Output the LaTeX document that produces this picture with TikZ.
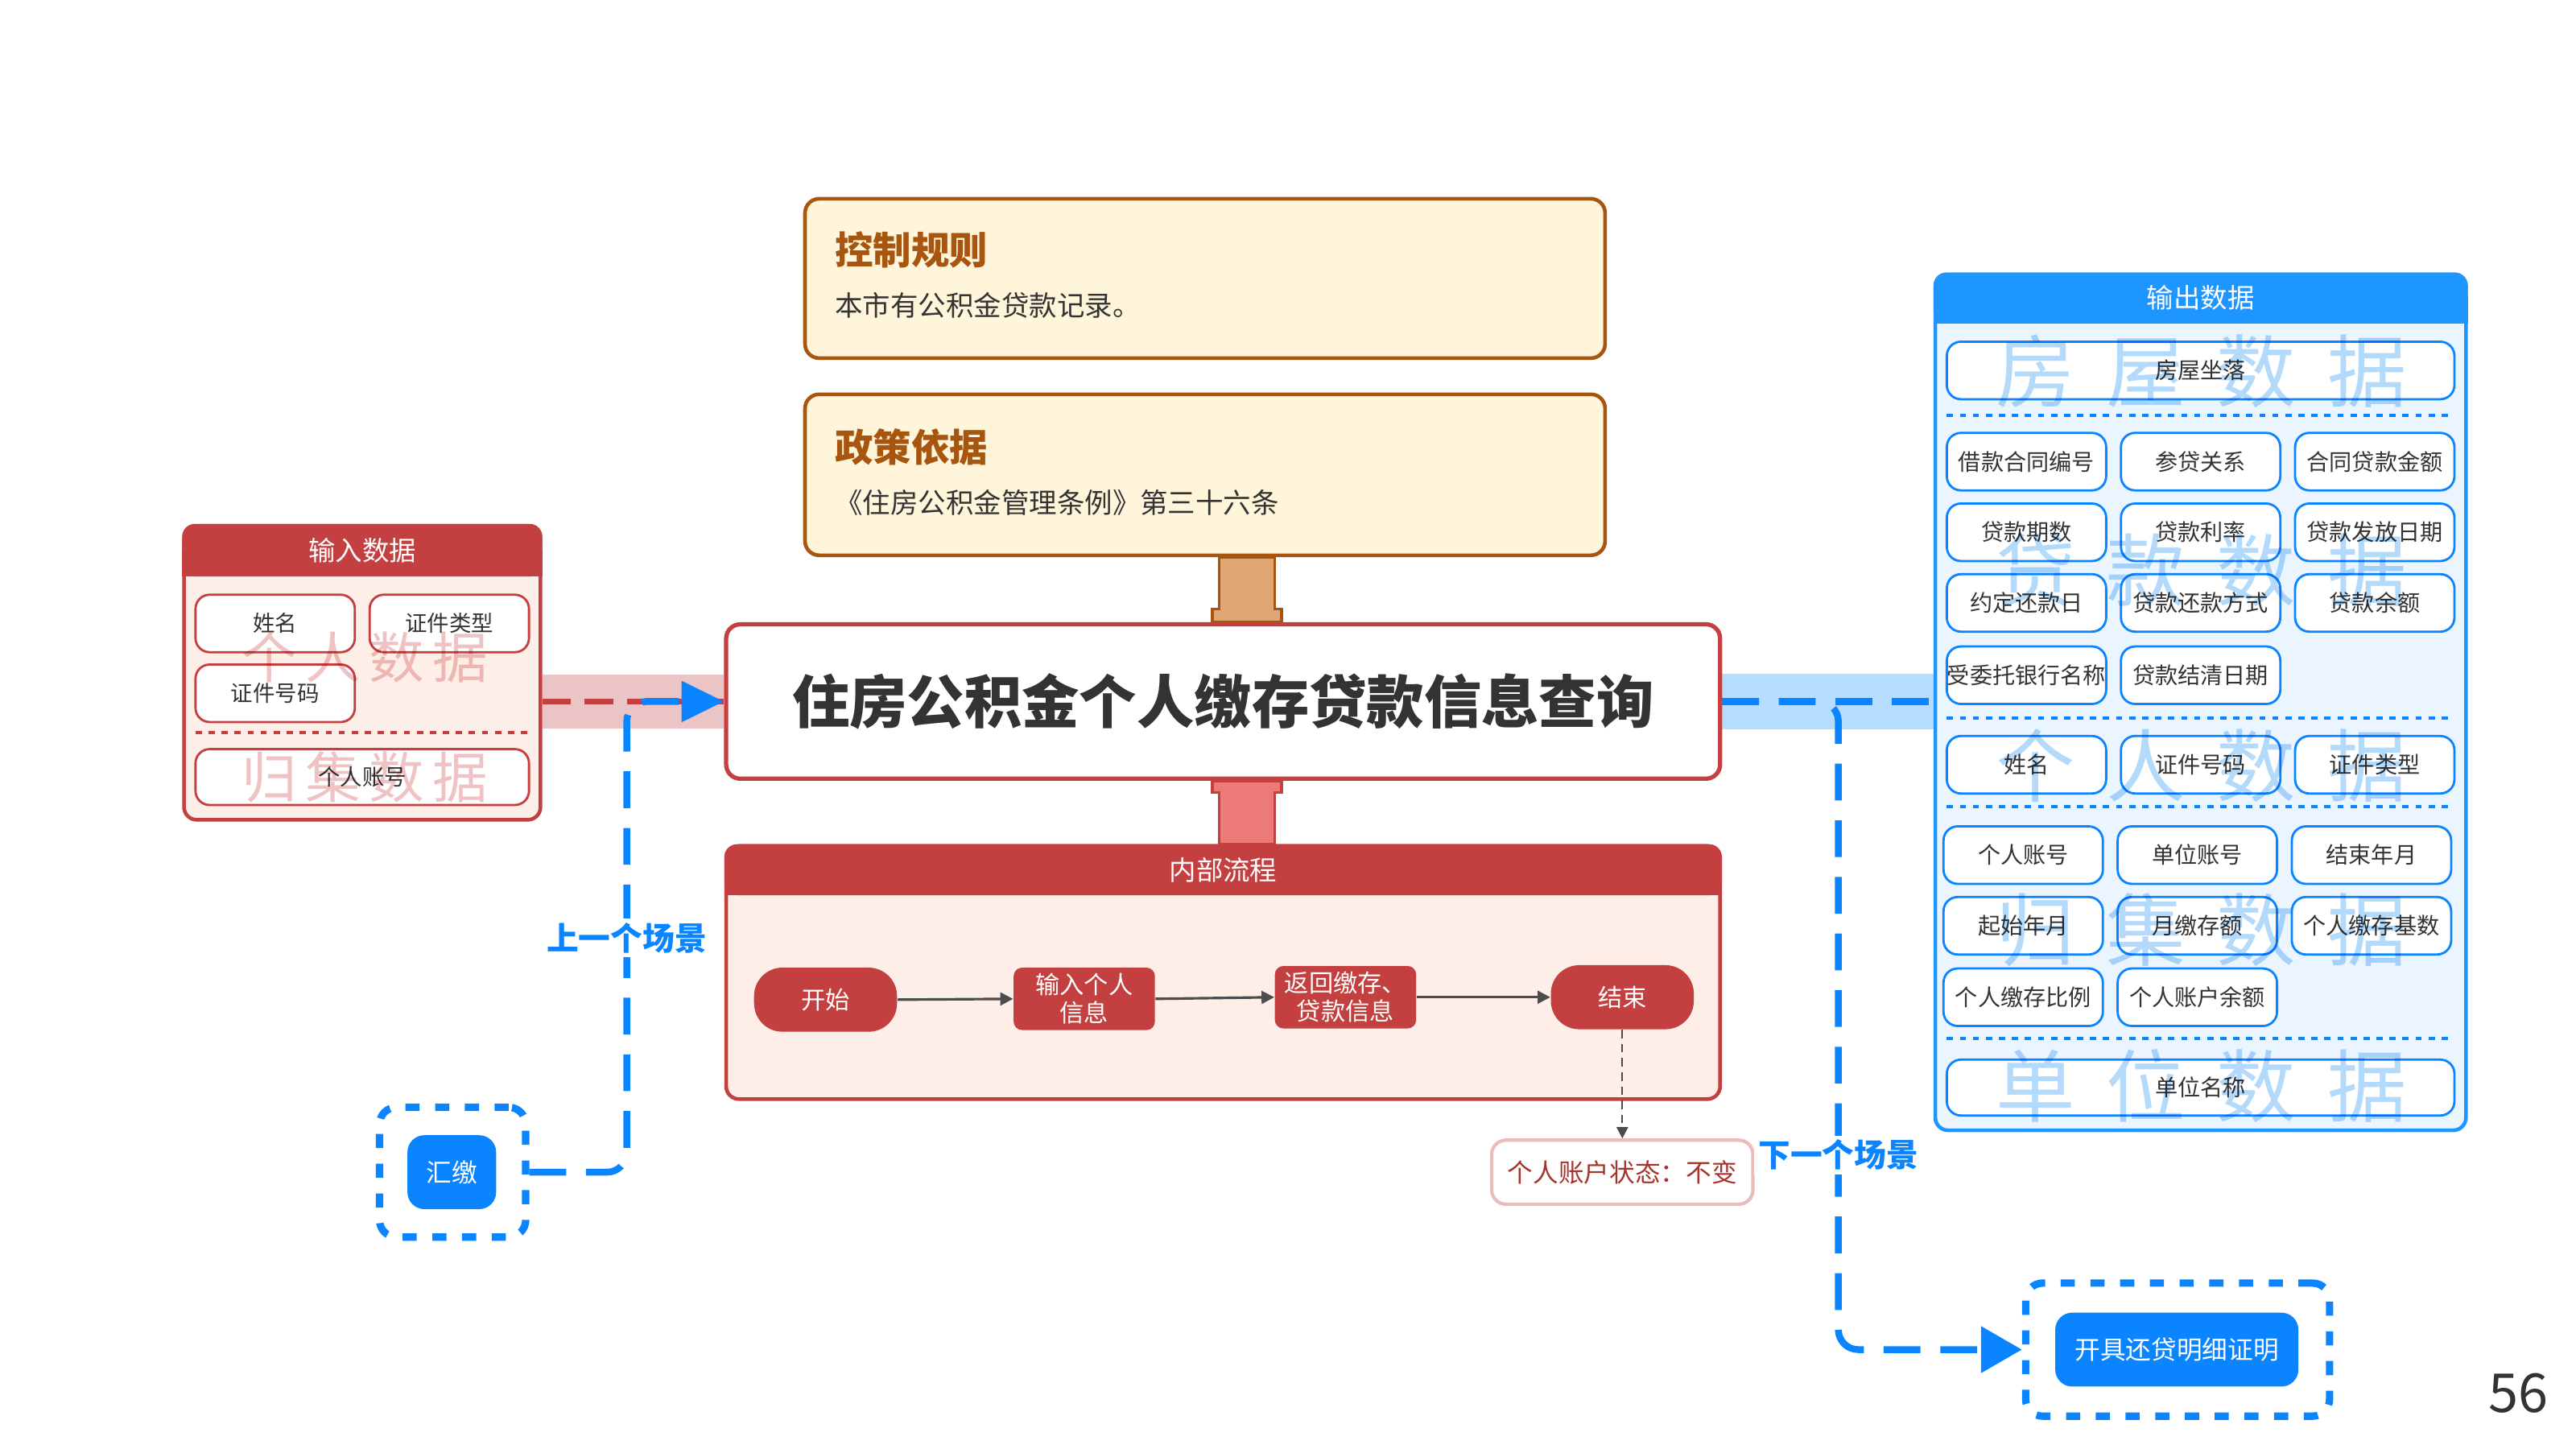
\documentclass[tikz,border=0pt]{standalone}
\usepackage{fontspec}
\setmainfont{Noto Sans CJK SC}
\usetikzlibrary{arrows.meta,calc,backgrounds}
\definecolor{cred}{HTML}{C43F3F}
\definecolor{cpink}{HTML}{FDEEE8}
\definecolor{cband}{HTML}{EBC5C5}
\definecolor{cblue}{HTML}{0A84FF}
\definecolor{chblue}{HTML}{1E96FF}
\definecolor{clblue}{HTML}{EBF5FF}
\definecolor{cbband}{HTML}{B5DDFF}
\definecolor{ccream}{HTML}{FFF5DA}
\definecolor{cbrown}{HTML}{A8550F}
\definecolor{ctan}{HTML}{DFA774}
\definecolor{cpstem}{HTML}{EC7B78}
\definecolor{ctext}{HTML}{333333}
\definecolor{cwmred}{HTML}{EFC3C3}
\definecolor{cwmblue}{HTML}{B3DAFB}
\definecolor{cstat}{HTML}{A5342C}
\newdimen\pu \pu=0.020408cm
\newcommand\fs[2]{\fontsize{#1}{#2}\selectfont}
\newcommand\wmtext[5]{#1\hspace{#5}#2\hspace{#5}#3\hspace{#5}#4}
\tikzset{
 ctlbox/.style={draw=cbrown, line width=1.3pt, fill=ccream, rounded corners=5pt, minimum width=487*\pu, minimum height=97*\pu, inner sep=0pt},
 ctltitle/.style={text=cbrown, font=\fs{13.5}{15}\bfseries, anchor=west, inner sep=0pt},
 ctltext/.style={text=ctext, font=\fs{9.8}{11}, anchor=west, inner sep=0pt},
 container/.style={line width=1.3pt, rounded corners=4.5pt, inner sep=0pt},
 headtext/.style={text=white, font=\fs{9.5}{11}, inner sep=0pt},
 ritem/.style={draw=cred, line width=0.8pt, fill=white, rounded corners=5pt, text=ctext, font=\fs{7.8}{9}, inner sep=0pt, minimum width=97*\pu, minimum height=35*\pu},
 bitem/.style={draw=cblue, line width=0.8pt, fill=white, rounded corners=5pt, text=ctext, font=\fs{8}{9.5}, inner sep=0pt, minimum width=97*\pu, minimum height=35*\pu},
 sepred/.style={draw=cred, line width=1.1pt, dash pattern=on 2.2pt off 2.4pt},
 sepblue/.style={draw=cblue, line width=1.1pt, dash pattern=on 2.2pt off 2.4pt},
 wmred/.style={text=cwmred, font=\fs{19.5}{20}, inner sep=0pt},
 wmblue/.style={text=cwmblue, font=\fs{28}{30}, inner sep=0pt},
 mainbox/.style={draw=cred, line width=1.5pt, fill=white, rounded corners=5pt, minimum width=605*\pu, minimum height=94*\pu, inner sep=0pt, text=ctext, font=\fs{20.3}{22}\bfseries},
 flowpill/.style={fill=cred, text=white, rounded corners=10pt, minimum width=87*\pu, minimum height=39*\pu, font=\fs{8.6}{10.5}, inner sep=0pt},
 flowbox/.style={fill=cred, text=white, rounded corners=3pt, minimum width=86*\pu, minimum height=38*\pu, font=\fs{8.6}{10}, inner sep=0pt, align=center},
 flowarrow/.style={draw=black!70, line width=0.9pt, -{Triangle[length=4.5pt,width=4.5pt]}},
 statbox/.style={draw=cred!35, line width=1.2pt, fill=white, rounded corners=5pt, minimum width=159*\pu, minimum height=39*\pu, inner sep=0pt, text=cstat, font=\fs{9}{10}},
 frame/.style={draw=cblue, line width=2.6pt, dash pattern=on 5pt off 5.5pt, rounded corners=6pt, inner sep=0pt},
 bluebtn/.style={fill=cblue, text=white, rounded corners=6pt, inner sep=0pt, font=\fs{9}{10}},
 bluepath/.style={draw=cblue, line width=2.4pt, dash pattern=on 13pt off 7pt, rounded corners=7pt},
 redpath/.style={draw=cred, line width=2pt, dash pattern=on 10pt off 5pt},
 scenelabel/.style={fill=white, text=cblue, font=\fs{11.3}{13}\bfseries, inner sep=1.5pt},
}
\begin{document}
\begin{tikzpicture}[x=0.020408cm,y=-0.020408cm]
\useasboundingbox (0,0) rectangle (1568,882);
\begin{pgfonlayer}{background}
\fill[white] (0,0) rectangle (1568,882);
\end{pgfonlayer}

% control rule and policy
\node[ctlbox] (ctl) at (733.5,169.5) {};
\node[ctltitle] (ctlt) at (508,152) {控制规则};
\node[ctltext] (ctlx) at (508,186) {本市有公积金贷款记录。};
\node[ctlbox, minimum height=98*\pu] (pol) at (733.5,289) {};
\node[ctltitle] (polt) at (508,272) {政策依据};
\node[ctltext] (polx) at (508,306) {《住房公积金管理条例》第三十六条};

% main box
\node[mainbox] (main) at (744.5,427) {住房公积金个人缴存贷款信息查询};

% process box
\node[container, draw=cred, fill=cpink, minimum width=605*\pu, minimum height=154*\pu] (proc) at (744.5,592) {};
\fill[cred, rounded corners=4.5pt] (proc.north west) rectangle ($(proc.north east)+(0,31)$);
\fill[cred] ($(proc.north west)+(0,15)$) rectangle ($(proc.north east)+(0,31)$);
\node[headtext] (proch) at ($(proc.north)+(0,15.5)$) {内部流程};

\node[flowpill] (fstart) at (502.5,608.5) {开始};
\node[flowbox] (finput) at (660,608) {输入个人\\信息};
\node[flowbox] (fret) at (819,607) {返回缴存、\\贷款信息};
\node[flowpill] (fend) at (987.5,607) {结束};
\draw[flowarrow] (fstart.east) -- (finput.west);
\draw[flowarrow] (finput.east) -- (fret.west);
\draw[flowarrow] (fret.east) -- (fend.west);
\node[statbox] (stat) at (987.5,713.5) {个人账户状态：不变};
\draw[draw=black!70, line width=0.6pt, dash pattern=on 3pt off 2pt, -{Triangle[length=4pt,width=4pt]}] (fend.south) -- (stat.north);

% stems
\coordinate (ts) at ($(main.north)+(14.5,0)$);
\coordinate (ps) at ($(main.south)+(14.5,0)$);
\begin{pgfonlayer}{background}
\filldraw[fill=ctan, draw=cbrown, line width=1pt]
 ($(ts)+(-21,0)$) -- ($(ts)+(-21,-8)$) -- ($(ts)+(-17,-8)$) -- ($(ts |- pol.south)+(-17,0)$)
 -- ($(ts |- pol.south)+(17,0)$) -- ($(ts)+(17,-8)$) -- ($(ts)+(21,-8)$) -- ($(ts)+(21,0)$) -- cycle;
\filldraw[fill=cpstem, draw=cred, line width=1pt]
 ($(ps)+(-21,0)$) -- ($(ps)+(-21,7)$) -- ($(ps)+(-17,7)$) -- ($(ps |- proc.north)+(-17,0)$)
 -- ($(ps |- proc.north)+(17,0)$) -- ($(ps)+(17,7)$) -- ($(ps)+(21,7)$) -- ($(ps)+(21,0)$) -- cycle;
\end{pgfonlayer}

% input data box
\node[container, draw=cred, fill=cpink, minimum width=217*\pu, minimum height=179*\pu] (inbox) at (220.5,409.5) {};
\fill[cred, rounded corners=4.5pt] (inbox.north west) rectangle ($(inbox.north east)+(0,32)$);
\fill[cred] ($(inbox.north west)+(0,16)$) rectangle ($(inbox.north east)+(0,32)$);
\node[headtext] (inhead) at ($(inbox.north)+(0,16)$) {输入数据};
\node[ritem] (in1) at (167.5,379.5) {姓名};
\node[ritem] (in2) at (273.5,379.5) {证件类型};
\node[ritem] (in3) at (167.5,422) {证件号码};
\draw[sepred] (119,446) -- (322,446);
\node[ritem, minimum width=203*\pu, minimum height=34*\pu] (in4) at (220.5,473) {个人账号};

% output data box
\node[container, draw=chblue, fill=clblue, minimum width=323*\pu, minimum height=521*\pu] (outbox) at (1339.5,427.5) {};
\fill[chblue, rounded corners=4.5pt] (outbox.north west) rectangle ($(outbox.north east)+(0,31)$);
\fill[chblue] ($(outbox.north west)+(0,15)$) rectangle ($(outbox.north east)+(0,31)$);
\node[headtext] (outhead) at ($(outbox.north)+(0,15.5)$) {输出数据};
\node[bitem, minimum width=309*\pu] (o0) at (1339.5,225.5) {房屋坐落};
\draw[sepblue] (1185,253) -- (1494,253);
\node[bitem] (o1) at (1233.5,281) {借款合同编号};
\node[bitem] (o2) at (1339.5,281) {参贷关系};
\node[bitem] (o3) at (1445.5,281) {合同贷款金额};
\node[bitem] (o4) at (1233.5,324) {贷款期数};
\node[bitem] (o5) at (1339.5,324) {贷款利率};
\node[bitem] (o6) at (1445.5,324) {贷款发放日期};
\node[bitem] (o7) at (1233.5,367) {约定还款日};
\node[bitem] (o8) at (1339.5,367) {贷款还款方式};
\node[bitem] (o9) at (1445.5,367) {贷款余额};
\node[bitem] (o10) at (1233.5,411) {受委托银行名称};
\node[bitem] (o11) at (1339.5,411) {贷款结清日期};
\draw[sepblue] (1185,437) -- (1494,437);
\node[bitem] (o12) at (1233.5,465.5) {姓名};
\node[bitem] (o13) at (1339.5,465.5) {证件号码};
\node[bitem] (o14) at (1445.5,465.5) {证件类型};
\draw[sepblue] (1185,491) -- (1494,491);
\node[bitem] (o15) at (1231.5,520.5) {个人账号};
\node[bitem] (o16) at (1337.5,520.5) {单位账号};
\node[bitem] (o17) at (1443.5,520.5) {结束年月};
\node[bitem] (o18) at (1231.5,563.5) {起始年月};
\node[bitem] (o19) at (1337.5,563.5) {月缴存额};
\node[bitem] (o20) at (1443.5,563.5) {个人缴存基数};
\node[bitem] (o21) at (1231.5,607) {个人缴存比例};
\node[bitem] (o22) at (1337.5,607) {个人账户余额};
\draw[sepblue] (1185,632) -- (1494,632);
\node[bitem, minimum width=309*\pu, minimum height=34*\pu] (o23) at (1339.5,662) {单位名称};

% watermarks
\begin{scope}[blend mode=multiply]
\node[wmred] (wm1) at (222,400) {\wmtext{个}{人}{数}{据}{3pt}};
\node[wmred] (wm2) at (222,473) {\wmtext{归}{集}{数}{据}{3pt}};
\node[wmblue] (wm3) at (1340,226) {\wmtext{房}{屋}{数}{据}{11pt}};
\node[wmblue] (wm4) at (1340,347) {\wmtext{贷}{款}{数}{据}{11pt}};
\node[wmblue] (wm5) at (1340,466) {\wmtext{个}{人}{数}{据}{11pt}};
\node[wmblue] (wm6) at (1340,566) {\wmtext{归}{集}{数}{据}{11pt}};
\node[wmblue] (wm7) at (1340,661) {\wmtext{单}{位}{数}{据}{11pt}};
\end{scope}

% scene boxes
\node[frame, minimum width=89*\pu, minimum height=79*\pu] (hjframe) at (275.5,713.5) {};
\node[bluebtn, minimum width=54*\pu, minimum height=45*\pu] (hj) at (275,713.5) {汇缴};
\node[frame, minimum width=185*\pu, minimum height=81*\pu] (kjframe) at (1325.5,821.5) {};
\node[bluebtn, minimum width=148*\pu, minimum height=45*\pu] (kj) at (1325,821.5) {开具还贷明细证明};

% bands
\begin{pgfonlayer}{background}
\draw[cband, line width=19.2pt] (main.west -| inbox.east) -- (main.west);
\draw[cbband, line width=19.5pt] (main.east) -- (main.east -| outbox.west);
\end{pgfonlayer}
\draw[redpath] (main.west -| inbox.east) -- (main.west);
\draw[bluepath, rounded corners=0pt] (main.east) -- (main.east -| outbox.west);

% scene paths
\coordinate (lturn) at (381.5,427);
\coordinate (rturn) at (1119,427);
\draw[bluepath, -{Triangle[length=15pt,width=14pt]}] (hjframe.east) -| (lturn) -- (main.west);
\draw[bluepath, -{Triangle[length=14.5pt,width=16pt]}] (main.east) -- (rturn) |- (kjframe.west);
\node[scenelabel] (prevl) at (381.5,571) {上一个场景};
\node[scenelabel] (nextl) at (1119,703) {下一个场景};

% page number
\node[text=ctext, font=\fs{19}{20}, inner sep=0pt] (pgnum) at (1533,848) {56};
\end{tikzpicture}
\end{document}
